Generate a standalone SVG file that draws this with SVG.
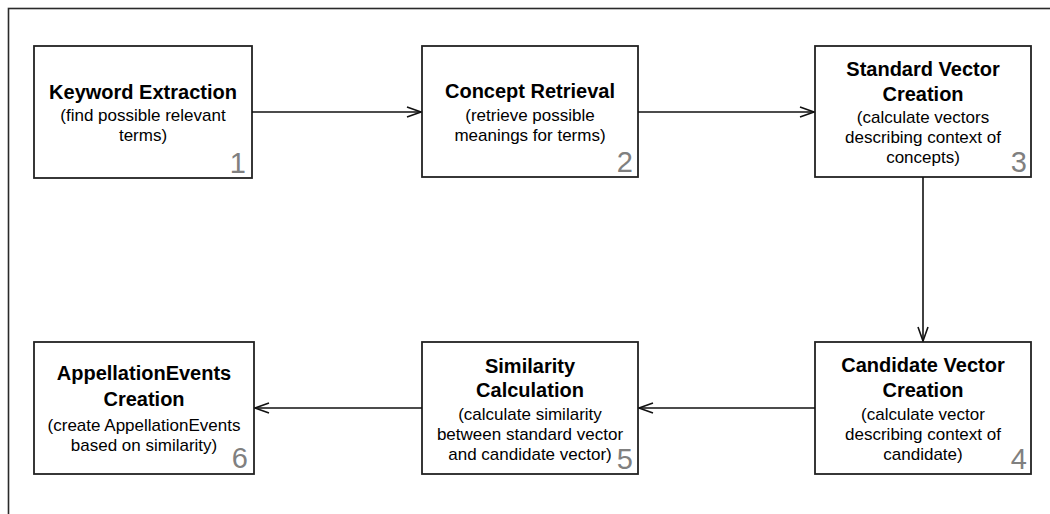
<svg xmlns="http://www.w3.org/2000/svg" width="1050" height="514" viewBox="0 0 1050 514">
  <style>
    .frame { fill: none; stroke: #2a2a2a; stroke-width: 1.6; }
    .box { fill: #ffffff; stroke: #222222; stroke-width: 1.8; }
    .title { font-family: "Liberation Sans", Arial, Helvetica, sans-serif; font-size: 20px; font-weight: bold; fill: #000000; text-anchor: middle; }
    .sub { font-family: "Liberation Sans", Arial, Helvetica, sans-serif; font-size: 17px; fill: #000000; text-anchor: middle; }
    .num { font-family: "Liberation Sans", Arial, Helvetica, sans-serif; font-size: 29px; fill: #808080; text-anchor: end; }
    .edge { fill: none; stroke: #111111; stroke-width: 1.6; }
  </style>
  <defs>
    <marker id="arrow" viewBox="0 0 16 12" refX="15" refY="6" markerWidth="16" markerHeight="12" markerUnits="userSpaceOnUse" orient="auto">
      <polyline points="1,1 15,6 1,11" fill="none" stroke="#111111" stroke-width="1.6"/>
    </marker>
  </defs>

  <rect width="1050" height="514" fill="#ffffff"/>
  <!-- outer frame, open past the right and bottom edges -->
  <rect class="frame" x="8.5" y="8.5" width="1100" height="600"/>

  <g id="node-1">
    <rect class="box" x="34" y="46" width="218" height="132"/>
    <text class="title" x="143" y="99">Keyword Extraction</text>
    <text class="sub" x="143" y="121">(find possible relevant</text>
    <text class="sub" x="143" y="140.5">terms)</text>
    <text class="num" x="246" y="172.5">1</text>
  </g>

  <g id="node-2">
    <rect class="box" x="422" y="46" width="216" height="131"/>
    <text class="title" x="530" y="97.5">Concept Retrieval</text>
    <text class="sub" x="530" y="121">(retrieve possible</text>
    <text class="sub" x="530" y="141">meanings for terms)</text>
    <text class="num" x="633" y="172">2</text>
  </g>

  <g id="node-3">
    <rect class="box" x="815" y="46" width="216" height="131"/>
    <text class="title" x="923" y="76">Standard Vector</text>
    <text class="title" x="923" y="100.5">Creation</text>
    <text class="sub" x="923" y="123">(calculate vectors</text>
    <text class="sub" x="923" y="143">describing context of</text>
    <text class="sub" x="923" y="163">concepts)</text>
    <text class="num" x="1027" y="171.5">3</text>
  </g>

  <g id="node-4">
    <rect class="box" x="815" y="342" width="216" height="132"/>
    <text class="title" x="923" y="372">Candidate Vector</text>
    <text class="title" x="923" y="397">Creation</text>
    <text class="sub" x="923" y="420">(calculate vector</text>
    <text class="sub" x="923" y="440">describing context of</text>
    <text class="sub" x="923" y="460">candidate)</text>
    <text class="num" x="1027" y="468.5">4</text>
  </g>

  <g id="node-5">
    <rect class="box" x="422" y="342" width="216" height="132"/>
    <text class="title" x="530" y="373">Similarity</text>
    <text class="title" x="530" y="397">Calculation</text>
    <text class="sub" x="530" y="420">(calculate similarity</text>
    <text class="sub" x="530" y="440">between standard vector</text>
    <text class="sub" x="530" y="460">and candidate vector)</text>
    <text class="num" x="633" y="468.5">5</text>
  </g>

  <g id="node-6">
    <rect class="box" x="34" y="342" width="220" height="132"/>
    <text class="title" x="144" y="380">AppellationEvents</text>
    <text class="title" x="144" y="405.5">Creation</text>
    <text class="sub" x="144" y="431">(create AppellationEvents</text>
    <text class="sub" x="144" y="451">based on similarity)</text>
    <text class="num" x="248" y="468">6</text>
  </g>

  <g id="connectors">
    <line class="edge" x1="252" y1="112" x2="421" y2="112" marker-end="url(#arrow)"/>
    <line class="edge" x1="638" y1="112" x2="814" y2="112" marker-end="url(#arrow)"/>
    <line class="edge" x1="923" y1="177" x2="923" y2="341" marker-end="url(#arrow)"/>
    <line class="edge" x1="815" y1="408" x2="639" y2="408" marker-end="url(#arrow)"/>
    <line class="edge" x1="422" y1="408" x2="255" y2="408" marker-end="url(#arrow)"/>
  </g>
</svg>
